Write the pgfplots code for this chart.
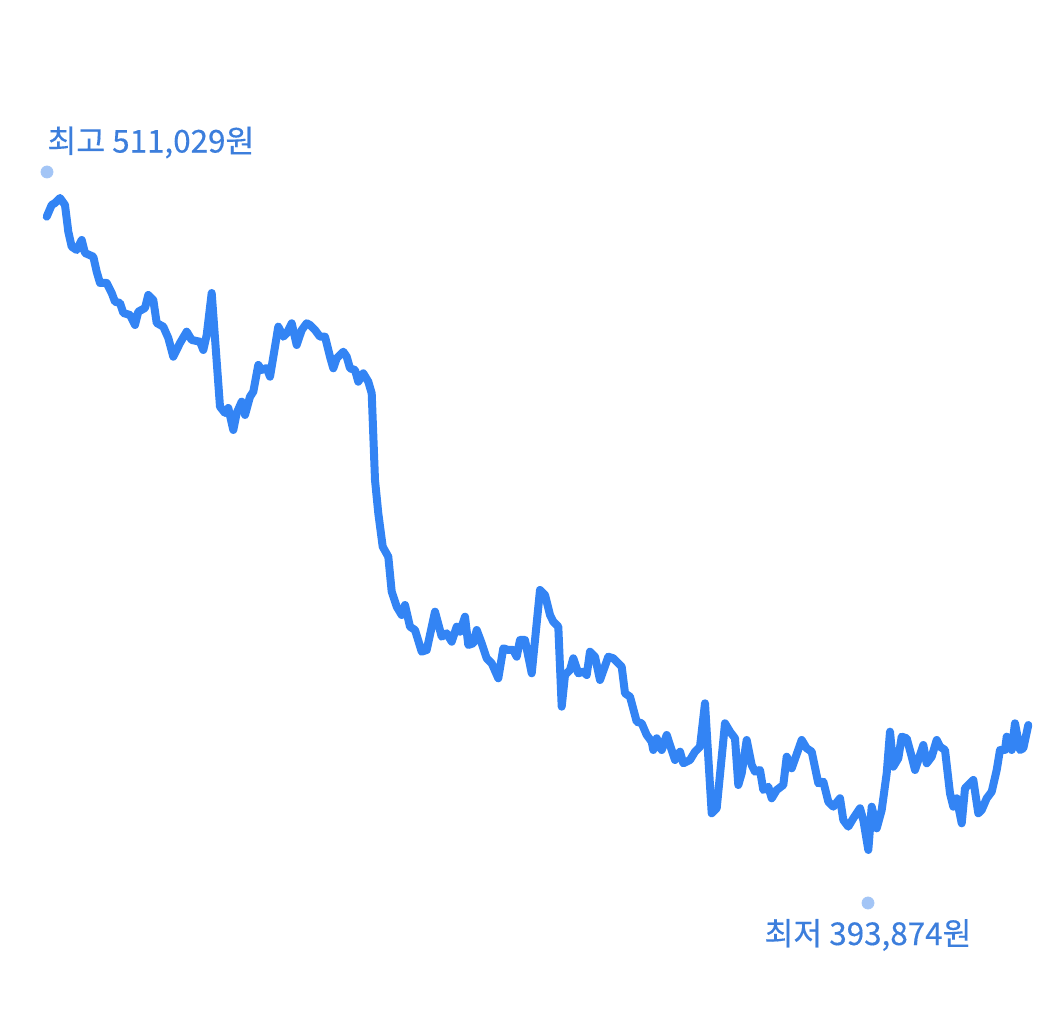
\documentclass[border=0pt]{standalone}
\usepackage{pgfplots}
\pgfplotsset{compat=1.18}
\usepackage{pgfplotstable}
\usepackage{fontspec}
\setmainfont{Noto Sans CJK KR}
\newfontfamily\labelfont[FakeBold=0.35]{Noto Sans CJK KR}
\definecolor{linec}{HTML}{3384F4}
\definecolor{textc}{HTML}{3C7EDC}
\definecolor{dotc}{HTML}{A3C5F6}
\pgfplotstableread{
x price
46.7 507670
51.7 509771
55 510131
60 511029
65 509771
68.3 504973
71.7 502278
76.7 501685
81.7 503482
85 501146
93.3 500481
96.7 497786
100 495755
106.7 495755
111.7 493958
115 492395
120 492162
123.3 490365
130 490005
135 488208
138.3 490598
145 491263
148.3 493599
153.3 492701
156.7 488568
163.3 487903
168.3 485872
173.3 482512
180 484974
186.7 487004
191.7 485513
200 485207
203.3 483716
206.7 486411
211.7 493958
220 473528
225 472396
228.3 473294
233.3 469341
236.7 472396
241.7 474426
245 472036
250 475324
253.3 476223
258.3 481021
261.7 480122
266.7 480482
270 478918
275 484309
278.3 487903
283.3 486106
286.7 486717
291.7 488514
296.7 484615
301.7 487310
306.7 488514
310 488208
315 487310
320 486106
325 486106
330 482512
333.3 480428
336.7 482225
343.3 483411
346.7 482512
350 480428
355 480122
358.3 478020
363.3 479529
368.3 478020
371.7 475936
375 460356
378.3 454373
382.7 448371
388.3 446574
391.7 440285
396.7 437590
401.7 436098
405 437895
410 433996
415 433403
421.7 429504
426.7 429809
435 436691
441.7 432199
446.7 432810
451.7 431300
456.7 433996
460 433098
465 435793
468.3 430708
473.3 431013
476.7 433403
481.7 431013
486.7 428317
491.7 427418
498.3 424723
503.3 430115
508.3 429809
513.3 429809
516.7 428605
520 431606
525 431606
531.7 425622
540 440591
545 439692
550 436098
553.3 434894
558.3 433996
561.7 419621
565 425317
570 426215
573.3 428317
578.3 425622
583.3 425910
586.7 425317
590 429504
595 428605
600 424418
608.3 428605
613.3 428317
621.7 426808
625 422028
630 421417
636.7 416925
641.7 416637
646.7 414535
651.7 413331
653.3 411840
656.7 413942
661.7 411840
666.7 414535
675 410043
680 411535
683.3 409450
690 410043
695 411535
700 412433
705 420231
711.7 400466
716.7 401364
725 416637
730 415128
735 413942
738.3 405551
741.7 407653
746.7 413637
751.7 409145
755 407941
760 408246
763.3 404653
768.3 405246
771.7 403161
776.7 404653
783.3 405551
786.7 410636
791.7 408552
801.7 413637
806.7 412145
811.7 411535
818.3 405856
823.3 406144
828.3 402550
833.3 401652
840 403161
843.3 399262
848.3 398058
853.3 399567
860 401364
863.3 399262
868.3 393874
871.7 401652
876.7 397770
881.7 401059
886.7 407653
890 415128
893.3 408839
898.3 410348
901.7 414230
906.7 413942
911.7 410636
915 408246
918.3 410043
923.3 412739
926.7 409450
931.7 410636
936.7 413637
940 412433
945 411840
950 404059
953.3 401652
956.7 403161
961.7 398667
965 404958
970 405856
973.3 406449
978.3 400466
981.7 401059
986.7 403161
991.7 404347
996.7 408246
1000 411840
1005 411840
1006.7 414230
1011.7 411840
1015 416637
1020 411840
1023.3 412145
1028.3 416332
}\pricedata
\begin{document}
\begin{tikzpicture}
\begin{axis}[
  width=522.5pt, height=509pt, scale only axis,
  xmin=0, xmax=1045, ymin=363683, ymax=546608,
  hide axis, clip=false,
]
\path (rel axis cs:0,0) rectangle (rel axis cs:1,1);
\addplot[linec, line width=4pt, line join=round, line cap=round] table[x=x, y=price] {\pricedata};
\addplot[only marks, mark=*, mark size=3pt, dotc, mark options={draw=none, fill=dotc}] coordinates {(47,515701) (868,384348)};
\node[anchor=west, text=textc, font=\labelfont\fontsize{15.7pt}{18pt}\selectfont, inner sep=0pt] at (axis cs:47,521000) {최고 511,029원};
\node[anchor=center, text=textc, font=\labelfont\fontsize{15.7pt}{18pt}\selectfont, inner sep=0pt] at (axis cs:868,378597) {최저 393,874원};
\end{axis}
\end{tikzpicture}
\end{document}
